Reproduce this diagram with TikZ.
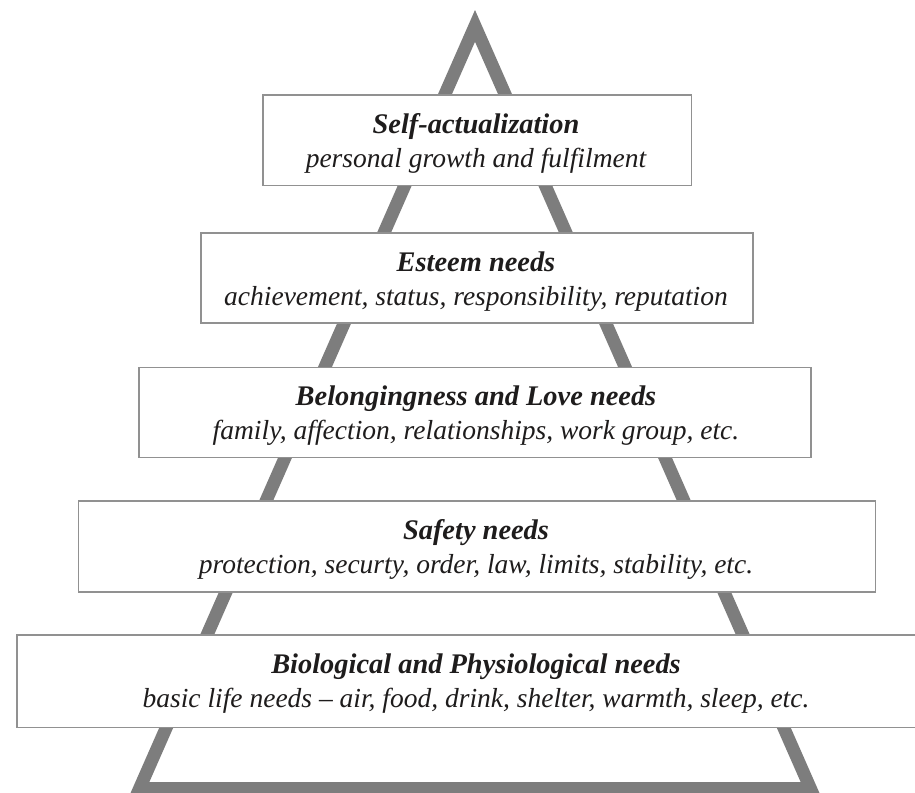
\documentclass[tikz,border=0pt]{standalone}
\usepackage{fontspec}
\setmainfont{Liberation Serif}
\definecolor{trigray}{RGB}{125,125,125}
\definecolor{boxgray}{RGB}{145,145,145}
\definecolor{txt}{RGB}{30,28,28}
\tikzset{
  level/.style={draw=boxgray, line width=1.7pt, fill=white, rectangle, inner sep=0pt},
  ttl/.style={anchor=base, inner sep=0pt, text=txt, font=\bfseries\itshape\fontsize{28.4}{34}\selectfont},
  sub/.style={anchor=base, inner sep=0pt, text=txt, font=\itshape\fontsize{27.5}{34}\selectfont},
  tri/.style={draw=trigray, line width=12.8pt, line join=miter},
}
\begin{document}
\begin{tikzpicture}[x=1pt,y=-1pt]
\useasboundingbox (0,0) rectangle (915,792);
\clip (0,0) rectangle (915,792);
\fill[white] (0,0) rectangle (915,792);
% pyramid outline
\coordinate (apex) at (475,25.9);
\coordinate (bl) at (139.5,788.5);
\coordinate (br) at (810.5,788.5);
\draw[tri] (apex) -- (br) -- (bl) -- cycle;
% level boxes
\node[level, minimum width=428.7pt, minimum height=90.3pt] (b1) at (477,140.2) {};
\node[level, minimum width=552.3pt, minimum height=90pt] (b2) at (476.9,278.3) {};
\node[level, minimum width=672pt, minimum height=90pt] (b3) at (475,412.5) {};
\node[level, minimum width=797pt, minimum height=90.7pt] (b4) at (477,546.4) {};
\node[level, minimum width=920pt, minimum height=92.3pt] (b5) at (476.7,681.2) {};
% texts
\node[ttl] (t1) at (476,133) {Self-actualization};
\node[sub] (s1) at (476,167) {personal growth and fulfilment};
\node[ttl] (t2) at (476,271.3) {Esteem needs};
\node[sub] (s2) at (476,305.3) {achievement, status, responsibility, reputation};
\node[ttl] (t3) at (476,405.5) {Belongingness and Love needs};
\node[sub] (s3) at (476,439.5) {family, affection, relationships, work group, etc.};
\node[ttl] (t4) at (476,539) {Safety needs};
\node[sub] (s4) at (476,573.5) {protection, securty, order, law, limits, stability, etc.};
\node[ttl] (t5) at (476,673) {Biological and Physiological needs};
\node[sub] (s5) at (476,707) {basic life needs – air, food, drink, shelter, warmth, sleep, etc.};
\end{tikzpicture}
\end{document}
